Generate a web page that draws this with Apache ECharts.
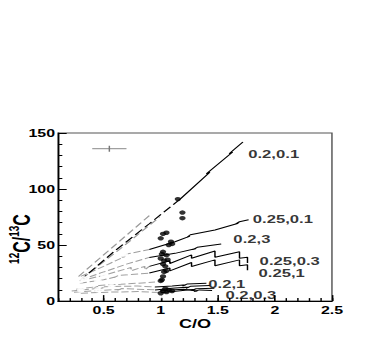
<!DOCTYPE html>
<html>
<head>
<meta charset="utf-8">
<script src="https://cdn.jsdelivr.net/npm/echarts@6/dist/echarts.min.js"></script>
<style>
  html, body { margin: 0; padding: 0; background: #fff; overflow: hidden; }
  /* the reference is stretched sideways, so draw narrow and widen it */
  #chart { width: 258px; height: 339px; transform: scaleX(1.4496); transform-origin: 0 0; }
</style>
</head>
<body>
<div id="chart"></div>
<script>
// x tick labels
const xMajor = [0.5, 1, 1.5, 2, 2.5];

// C/O, 12C/13C tracks -- black solid parts
const t02_01 = [[1.17, 91], [1.43, 115], [1.40, 113.5], [1.44, 117], [1.63, 133], [1.60, 131.5], [1.64, 135], [1.72, 142]];
const t025_01 = [[0.9, 46], [1.125, 53], [1.256, 58], [1.23, 57], [1.26, 59.2], [1.475, 63.5], [1.68, 69.5], [1.65, 68.5], [1.69, 70.8], [1.77, 72.5]];
const t02_3 = [[0.9, 39], [1.125, 42.6], [1.31, 47], [1.28, 46], [1.32, 48], [1.53, 51]];
const t025_03 = [[0.9, 31], [1.08, 36], [1.08, 33.5], [1.27, 41.2], [1.27, 38.2], [1.475, 44.7], [1.475, 39.1], [1.69, 44.1], [1.69, 38.2], [1.76, 39.1], [1.76, 34]];
const t025_1 = [[0.9, 25], [1.08, 29.5], [1.08, 27], [1.27, 34.4], [1.27, 30.9], [1.475, 36.8], [1.475, 31.5], [1.69, 36.8], [1.69, 31.5], [1.76, 32.4], [1.76, 27.6]];
const t02_1a = [[0.95, 12.5], [1.1, 13.5], [1.22, 14.5], [1.19, 13.5], [1.23, 15.2], [1.4, 16]];
const t02_1b = [[0.95, 10], [1.1, 11.5], [1.25, 12.5], [1.22, 11.5], [1.26, 13.2], [1.43, 14]];
const t02_03a = [[1.0, 7.5], [1.15, 9], [1.3, 10.5], [1.27, 9.5], [1.31, 11], [1.47, 11.5]];
const t02_03b = [[1.0, 9.5], [1.2, 10.5], [1.32, 9], [1.29, 8.5], [1.34, 10], [1.45, 9.5]];

// black dashed part of the 0.2,0.1 track
const t02_01dash = [[0.29, 18], [0.6, 45], [0.9, 69], [1.17, 91]];

// grey dashed tracks (low C/O part)
const g1 = [[0.28, 22], [0.6, 50], [0.92, 78]];
const g2 = [[0.31, 20], [0.65, 47], [0.99, 75]];
const g025_01 = [[0.3, 22], [0.5, 31], [0.69, 40], [0.66, 39], [0.7, 42], [0.9, 46]];
const g02_3 = [[0.3, 19], [0.5, 26], [0.7, 33], [0.9, 39]];
const g025_03 = [[0.29, 18], [0.5, 23], [0.74, 30], [0.74, 27], [0.86, 31], [0.86, 28], [0.9, 31]];
const g025_1 = [[0.29, 16], [0.5, 19], [0.62, 22], [0.59, 21], [0.63, 23], [0.9, 25]];
const gl1 = [[0.22, 9], [0.5, 12], [0.47, 11], [0.51, 12.8], [0.8, 13.5], [0.95, 12.5]];
const gl2 = [[0.24, 8], [0.45, 9.5], [0.65, 10.5], [0.62, 9.6], [0.66, 11.2], [0.95, 10]];
const gl3 = [[0.26, 10.5], [0.45, 13], [0.42, 12], [0.46, 14], [0.65, 15], [0.95, 17]];
const gl4 = [[0.3, 7], [0.55, 8], [0.8, 8.5], [1.0, 7.5]];

// grey open symbols
const openPts = [[0.29, 18], [0.33, 20], [0.45, 18], [0.57, 13], [0.5, 23], [0.72, 26], [0.68, 42], [0.3, 10], [0.45, 10], [0.97, 5], [1.0, 5]];

// observed stars (filled dots)
const dots = [[1.15, 91], [1.19, 79], [1.19, 74], [1.02, 60], [1.05, 61], [1.0, 56], [1.09, 53], [1.07, 50], [1.1, 51],
  [1.02, 44], [1.01, 42], [1.05, 41], [1.0, 38], [1.03, 36], [1.06, 37], [1.02, 33], [1.04, 31], [1.05, 27], [1.03, 26],
  [1.02, 22], [1.01, 19], [1.0, 18], [1.04, 11], [1.07, 10], [1.02, 9], [1.05, 8], [1.1, 9], [1.0, 7]];

// typical error bar
const errH = [[0.4, 136], [0.7, 136]];
const errV = [[0.55, 133.2], [0.55, 138.6]];

// curve labels and their anchors
const curveNames = ['0.2,0.1', '0.25,0.1', '0.2,3', '0.25,0.3', '0.25,1', '0.2,1', '0.2,0.3'];
const curveAnchors = [[1.76, 131.5], [1.80, 73.2], [1.63, 55.6], [1.86, 35.8], [1.85, 25.2], [1.41, 15], [1.56, 5.3]];

const FONT = "'Liberation Sans', Arial, sans-serif";

function line(data, color, type, width) {
  return {
    type: 'line', data: data, symbol: 'none', silent: true,
    lineStyle: { color: color, width: width || 1, type: type || 'solid' },
    z: 3
  };
}

const series = [];
[g1, g2].forEach(d => series.push(line(d, '#9a9a9a', [6, 3])));
[g025_01, g02_3, g025_03, g025_1, gl1, gl2, gl3, gl4].forEach(d => series.push(line(d, '#a0a0a0', [5, 2])));
series.push(line(t02_01dash, '#000', [7, 3]));
[t02_01, t025_01, t02_3, t025_03, t025_1, t02_1a, t02_1b, t02_03a, t02_03b].forEach(d => series.push(line(d, '#000', 'solid')));
series.push(line(errH, '#a0a0a0', 'solid', 1.3));
series.push(line(errV, '#777', 'solid', 1));
series.push({
  type: 'scatter', data: openPts, symbol: 'emptyCircle', symbolSize: 3.5, silent: true, z: 4,
  itemStyle: { color: '#fff', borderColor: '#888', borderWidth: 0.8 }
});
series.push({
  type: 'scatter', data: dots, symbol: 'circle', symbolSize: 4.4, silent: true, z: 5,
  itemStyle: { color: '#000' }
});
series.push({
  type: 'scatter', silent: true, z: 6, symbolSize: 1,
  itemStyle: { color: 'rgba(0,0,0,0)' },
  data: curveAnchors.map((p, i) => ({ value: p, name: curveNames[i] })),
  label: {
    show: true, position: 'right', distance: 0, formatter: '{b}', lineHeight: 10,
    color: '#000', fontFamily: FONT, fontWeight: 'bold', fontSize: 11.5
  }
});

const axisFont = { color: '#000', fontFamily: FONT, fontWeight: 'bold', fontSize: 11 };

const chart = echarts.init(document.getElementById('chart'), null, { renderer: 'svg' });
chart.setOption({
  animation: false,
  backgroundColor: '#fff',
  grid: { left: 40, right: 29, top: 133, bottom: 36, show: true, borderColor: '#555', borderWidth: 1 },
  xAxis: [{
    type: 'value', min: 0.1, max: 2.5, interval: 0.1, position: 'bottom',
    axisLine: { lineStyle: { color: '#000', width: 1 } },
    axisTick: { inside: true, length: 3, lineStyle: { color: '#000' } },
    axisLabel: { show: false },
    splitLine: { show: false }
  }, {
    type: 'value', min: 0.1, max: 2.5, position: 'bottom',
    axisLine: { show: false },
    axisTick: { inside: true, length: 6, customValues: xMajor, lineStyle: { color: '#000' } },
    axisLabel: Object.assign({ customValues: xMajor, margin: 4 }, axisFont),
    splitLine: { show: false },
    name: 'C/O', nameLocation: 'middle', nameGap: 16,
    nameTextStyle: { color: '#000', fontFamily: FONT, fontWeight: 'bold', fontSize: 12.5 }
  }],
  yAxis: {
    type: 'value', min: 0, max: 150, interval: 50,
    axisLine: { lineStyle: { color: '#000', width: 1 } },
    axisTick: { inside: true, length: 6, lineStyle: { color: '#000' } },
    minorTick: { show: true, splitNumber: 5, length: 3, lineStyle: { color: '#000' } },
    axisLabel: Object.assign({ margin: 2 }, axisFont),
    splitLine: { show: false }
  },
  graphic: [{
    type: 'text', x: 14, y: 239, rotation: Math.PI / 2,
    style: {
      text: '{s|12}{m|C/}{s|13}{m|C}',
      align: 'center', verticalAlign: 'middle',
      rich: {
        s: { fontFamily: FONT, fontWeight: 'bold', fontSize: 10, fill: '#000', verticalAlign: 'top', lineHeight: 18 },
        m: { fontFamily: FONT, fontWeight: 'bold', fontSize: 16, fill: '#000', verticalAlign: 'bottom', lineHeight: 18 }
      }
    }
  }],
  series: series
});
</script>
</body>
</html>
